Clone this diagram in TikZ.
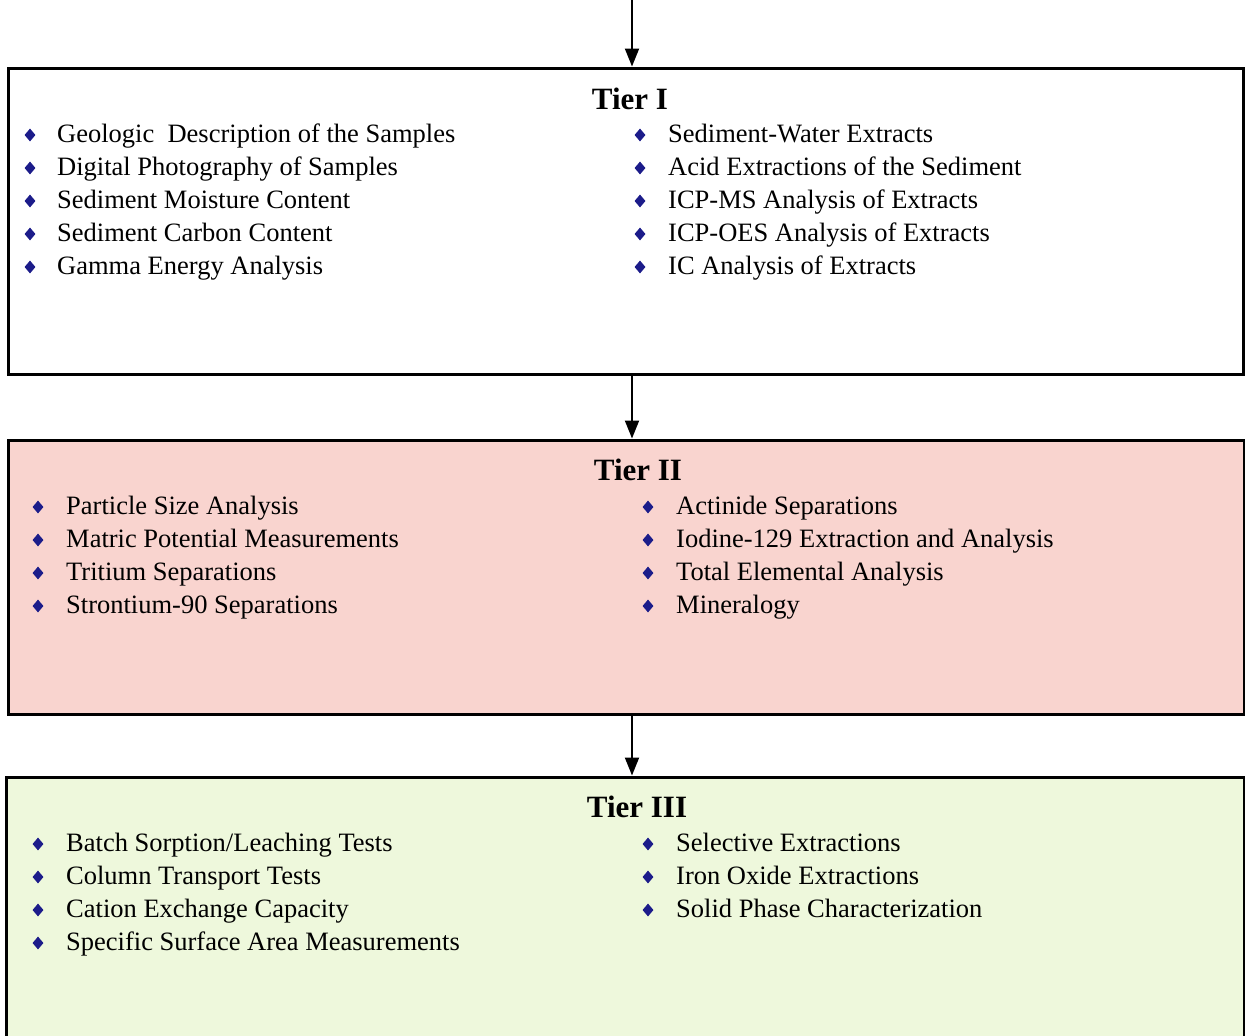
\documentclass[tikz,border=0pt]{standalone}
\usepackage{fontspec}
\setmainfont{Liberation Serif}
\usetikzlibrary{arrows.meta,shapes.geometric}
\definecolor{tierpink}{HTML}{F9D4CF}
\definecolor{tiergreen}{HTML}{EEF8DC}
\definecolor{bulletblue}{HTML}{1C1C8A}

\begin{document}
\begin{tikzpicture}[x=1pt,y=-1pt,
    tierbox/.style={draw=black,line width=3pt,inner sep=0pt},
    tiertitle/.style={anchor=base,inner sep=0pt,font=\fontsize{31}{36}\selectfont\bfseries},
    item/.style={anchor=base west,inner sep=0pt,font=\fontsize{26.5}{33}\selectfont},
    bullet/.style={diamond,fill=bulletblue,inner sep=0pt,minimum width=11pt,minimum height=13pt},
    flow/.style={line width=2pt,-{Triangle[width=14pt,length=18pt]}}]
    \clip (0,0) rectangle (1245,1036);
    % De tre trin
    \node[tierbox,fill=white,minimum width=1235pt,minimum height=306pt] (tier1) at (625.5,221) {};
    \node[tierbox,fill=tierpink,minimum width=1236pt,minimum height=274pt] (tier2) at (626,577) {};
    \node[tierbox,fill=tiergreen,minimum width=1238pt,minimum height=300pt] (tier3) at (625,927) {};
    \node[tiertitle] (title1) at (630,109) {Tier I};
    \node[tiertitle] (title2) at (638,480) {Tier II};
    \node[tiertitle] (title3) at (637,817) {Tier III};
    % Pile mellem trinene
    \coordinate (start) at (632,0);
    \draw[flow] (start) -- (tier1.north -| start);
    \draw[flow] (tier1.south -| start) -- (tier2.north -| start);
    \draw[flow] (tier2.south -| start) -- (tier3.north -| start);
    % Tier I
    \foreach \txt [count=\i] in {Geologic\ \ Description of the Samples,Digital Photography of Samples,
        Sediment Moisture Content,Sediment Carbon Content,Gamma Energy Analysis} {
      \node[bullet] (b1l\i) at (30,{135+33*(\i-1)}) {};
      \node[item] (t1l\i) at (57,{142+33*(\i-1)}) {\txt};
    }
    \foreach \txt [count=\i] in {Sediment-Water Extracts,Acid Extractions of the Sediment,
        ICP-MS Analysis of Extracts,ICP-OES Analysis of Extracts,IC Analysis of Extracts} {
      \node[bullet] (b1r\i) at (640,{135+33*(\i-1)}) {};
      \node[item] (t1r\i) at (668,{142+33*(\i-1)}) {\txt};
    }
    % Tier II
    \foreach \txt [count=\i] in {Particle Size Analysis,Matric Potential Measurements,
        Tritium Separations,Strontium-90 Separations} {
      \node[bullet] (b2l\i) at (38,{507+33*(\i-1)}) {};
      \node[item] (t2l\i) at (66,{514+33*(\i-1)}) {\txt};
    }
    \foreach \txt [count=\i] in {Actinide Separations,Iodine-129 Extraction and Analysis,
        Total Elemental Analysis,Mineralogy} {
      \node[bullet] (b2r\i) at (648,{507+33*(\i-1)}) {};
      \node[item] (t2r\i) at (676,{514+33*(\i-1)}) {\txt};
    }
    % Tier III
    \foreach \txt [count=\i] in {Batch Sorption/Leaching Tests,Column Transport Tests,
        Cation Exchange Capacity,Specific Surface Area Measurements} {
      \node[bullet] (b3l\i) at (38,{844+33*(\i-1)}) {};
      \node[item] (t3l\i) at (66,{851+33*(\i-1)}) {\txt};
    }
    \foreach \txt [count=\i] in {Selective Extractions,Iron Oxide Extractions,
        Solid Phase Characterization} {
      \node[bullet] (b3r\i) at (648,{844+33*(\i-1)}) {};
      \node[item] (t3r\i) at (676,{851+33*(\i-1)}) {\txt};
    }
\end{tikzpicture}
\end{document}
